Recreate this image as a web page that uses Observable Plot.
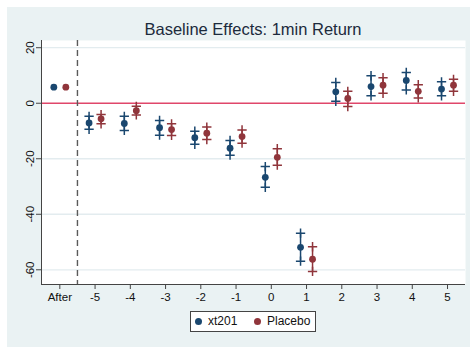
<!DOCTYPE html>
<html>
<head>
<meta charset="utf-8">
<script src="https://cdn.jsdelivr.net/npm/d3@7"></script>
<script src="https://cdn.jsdelivr.net/npm/@observablehq/plot@0.6"></script>
<style>
  html, body { margin: 0; padding: 0; background: #ffffff; }
  #wrap { position: relative; width: 470px; height: 347px; overflow: hidden; font-family: "Liberation Sans", Arial, sans-serif; }
  #bg { position: absolute; left: 7px; top: 7px; right: 0; bottom: 0; background: #eaf2f3; }
  #chart { position: absolute; left: 0; top: 0; }
  #title { position: absolute; left: 41px; width: 424px; top: 21px; text-align: center; font-size: 16.5px; line-height: 16.5px; color: #1c2a3c; white-space: nowrap; }
  #legend { position: absolute; left: 190px; top: 311px; width: 124px; height: 19px; background: #ffffff; border: 1px solid #444; font-size: 12px; color: #111; }
  .li { position: absolute; top: 0; height: 19px; line-height: 19px; }
  .sw { position: absolute; width: 7px; height: 7px; border-radius: 50%; top: 6px; }
</style>
</head>
<body>
<div id="wrap">
  <div id="bg"></div>
  <div id="chart"></div>
  <div id="title">Baseline Effects: 1min Return</div>
  <div id="legend"></div>
</div>
<script>
// ---- data ----
const periodLabels = ["After", "-5", "-4", "-3", "-2", "-1", "0", "1", "2", "3", "4", "5"];
const periodPos    = [-6, -5, -4, -3, -2, -1, 0, 1, 2, 3, 4, 5];

const xt201Est = [5.8, -7.1, -7.3, -8.8, -12.4, -16.2, -26.7, -51.9, 4.1, 6.0, 8.2, 5.1];
const xt201Lo  = [null, -9.4, -9.8, -11.5, -14.8, -18.7, -30.3, -56.9, 0.7, 2.7, 4.8, 2.7];
const xt201Hi  = [null, -4.7, -4.7, -6.2, -10.1, -13.4, -22.8, -46.8, 7.5, 9.9, 11.1, 7.7];

const placeboEst = [5.8, -5.6, -2.7, -9.5, -10.8, -12.0, -19.5, -56.2, 1.7, 6.5, 4.3, 6.5];
const placeboLo  = [null, -7.4, -4.2, -11.6, -13.1, -14.4, -22.3, -60.6, -1.2, 3.6, 1.9, 4.3];
const placeboHi  = [null, -4.1, -1.1, -7.4, -8.6, -9.6, -16.4, -51.7, 4.3, 9.2, 6.7, 8.6];

const seriesNames = ["xt201", "Placebo"];
const seriesColors = ["#1a476f", "#90353b"];

const yTicks = [20, 0, -20, -40, -60];
const yGrid = [20, -20, -40, -60];
const eventLine = -5.5;
const xDomain = [-6.52, 5.51];
const yDomain = [-65.3, 22.6];

// ---- build tables ----
function rows(est, lo, hi, name) {
  return periodPos.map((p, i) => ({pos: p, est: est[i], lo: lo[i], hi: hi[i], series: name}));
}
const rowsA = rows(xt201Est, xt201Lo, xt201Hi, seriesNames[0]);
const rowsB = rows(placeboEst, placeboLo, placeboHi, seriesNames[1]);
const ciA = rowsA.filter(d => d.lo != null);
const ciB = rowsB.filter(d => d.lo != null);
const capsA = ciA.flatMap(d => [{pos: d.pos, v: d.lo}, {pos: d.pos, v: d.hi}]);
const capsB = ciB.flatMap(d => [{pos: d.pos, v: d.lo}, {pos: d.pos, v: d.hi}]);

const off = 6;
function seriesMarks(rowsS, ci, caps, color, dx) {
  return [
    Plot.ruleX(ci, {x: "pos", y1: "lo", y2: "hi", stroke: color, strokeWidth: 1.5, dx}),
    Plot.dot(caps, {x: "pos", y: "v", symbol: "plus", r: 3.1, stroke: color, strokeWidth: 1.5, dx}),
    Plot.dot(rowsS, {x: "pos", y: "est", r: 3.4, fill: color, stroke: "none", dx})
  ];
}

const chart = Plot.plot({
  width: 470,
  height: 347,
  marginLeft: 41,
  marginRight: 5,
  marginTop: 40,
  marginBottom: 63,
  style: {background: "transparent", fontFamily: "Liberation Sans, Arial, sans-serif"},
  x: {type: "linear", domain: xDomain, axis: null},
  y: {type: "linear", domain: yDomain, axis: null},
  marks: [
    Plot.frame({fill: "#ffffff", stroke: "none"}),
    Plot.ruleY(yGrid, {stroke: "#e3ecef", strokeWidth: 1.3}),
    Plot.ruleY([0], {stroke: "#e0476a", strokeWidth: 1.6}),
    Plot.ruleX([eventLine], {stroke: "#5a5a5a", strokeWidth: 1.4, strokeDasharray: "6,4"}),
    Plot.ruleX([xDomain[0]], {stroke: "#444", strokeWidth: 1}),
    Plot.ruleY([yDomain[0]], {stroke: "#444", strokeWidth: 1}),
    Plot.axisY({ticks: yTicks, tickSize: 5, tickFormat: () => "", stroke: "#444", anchor: "left", label: null}),
    Plot.text(yTicks, {y: d => d, text: d => String(d), frameAnchor: "left", dx: -11, rotate: -90, fontSize: 11.5, fill: "#111", textAnchor: "middle", lineAnchor: "middle"}),
    Plot.axisX({ticks: periodPos, tickSize: 5, tickPadding: 3, anchor: "bottom", label: null,
      tickFormat: d => periodLabels[periodPos.indexOf(d)], fontSize: 11.5, stroke: "#444", fill: "#111"}),
    ...seriesMarks(rowsA, ciA, capsA, seriesColors[0], -off),
    ...seriesMarks(rowsB, ciB, capsB, seriesColors[1], off)
  ]
});
document.getElementById("chart").appendChild(chart);

// ---- legend ----
const legend = document.getElementById("legend");
const legendX = [[4, 17], [63, 76]];
seriesNames.forEach((name, i) => {
  const sw = document.createElement("div");
  sw.className = "sw";
  sw.style.left = legendX[i][0] + "px";
  sw.style.background = seriesColors[i];
  legend.appendChild(sw);
  const t = document.createElement("div");
  t.className = "li";
  t.style.left = legendX[i][1] + "px";
  t.textContent = name;
  legend.appendChild(t);
});
</script>
</body>
</html>
